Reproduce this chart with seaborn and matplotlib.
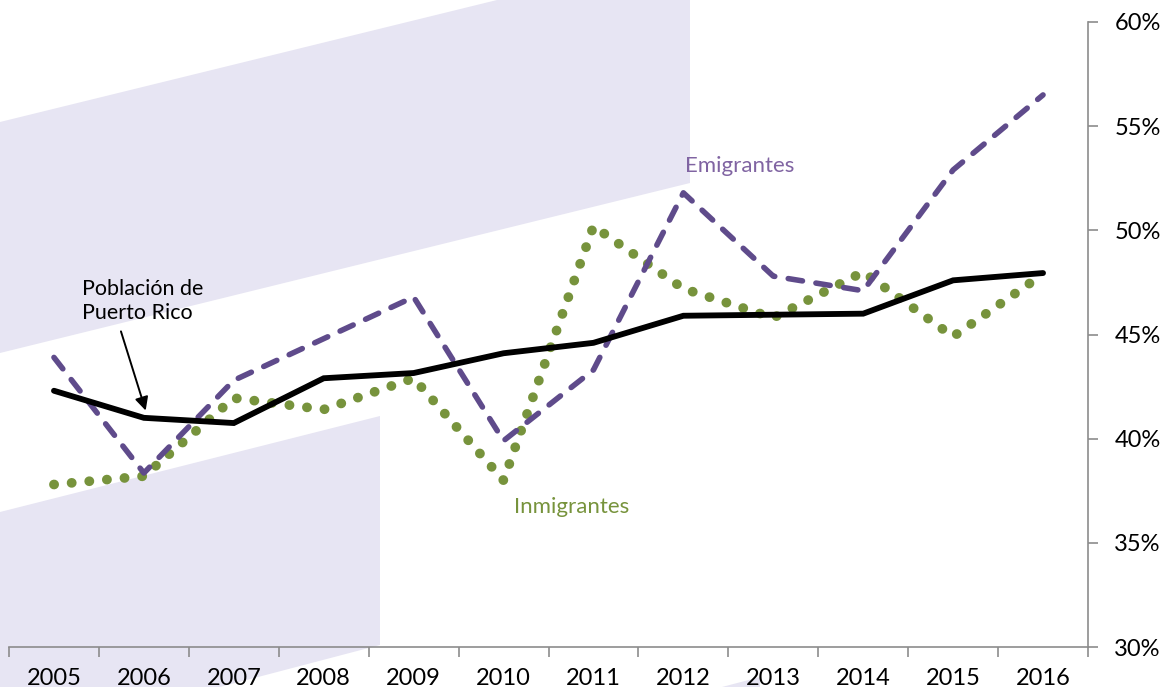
import numpy as np
import pandas as pd
import matplotlib
matplotlib.use("Agg")
import matplotlib.pyplot as plt
from matplotlib.patches import Polygon
from matplotlib.ticker import FixedLocator, FuncFormatter
import seaborn as sns

years = ["2005", "2006", "2007", "2008", "2009", "2010",
         "2011", "2012", "2013", "2014", "2015", "2016"]
poblacion = [42.3, 41.0, 40.75, 42.9, 43.15, 44.1, 44.6, 45.9, 45.95, 46.0, 47.6, 47.95]
emigrantes = [43.9, 38.35, 42.8, 44.8, 46.8, 39.9, 43.3, 51.8, 47.8, 47.1, 52.9, 56.5]
inmigrantes = [37.8, 38.2, 41.95, 41.4, 42.9, 38.0, 50.2, 47.2, 45.8, 48.0, 44.9, 47.9]
yticks = [30, 35, 40, 45, 50, 55, 60]

sns.set_theme(style="white")
plt.rcParams['font.family'] = ['Lato', 'DejaVu Sans']

W, H = 1162, 687
fig = plt.figure(figsize=(W / 100, H / 100), dpi=100)
ax = fig.add_axes([9 / W, 1 - 647 / H, (1088 - 9) / W, (647 - 22) / H])
ax.set_facecolor('none')

# decorative background shapes (pixel coords -> figure fraction)
lav = '#E7E5F3'
def px_poly(pts):
    return Polygon([(x / W, 1 - y / H) for x, y in pts], closed=True,
                   transform=fig.transFigure, facecolor=lav, edgecolor='none', zorder=-5)
fig.patches.append(px_poly([(0, 122), (497, 0), (690, 0), (690, 183), (0, 353)]))
fig.patches.append(px_poly([(0, 512), (380, 416), (380, 645), (220, 687), (0, 687)]))
fig.patches.append(px_poly([(722, 687), (760, 677), (760, 687)]))

x = np.arange(len(years))
df = pd.DataFrame({"x": x, "Población": poblacion,
                   "Emigrantes": emigrantes, "Inmigrantes": inmigrantes})

sns.lineplot(data=df, x="x", y="Inmigrantes", ax=ax, color='#77933C', lw=7.0,
             linestyle=(0, (0.02, 1.8)), dash_capstyle='round', solid_capstyle='round', zorder=3)
sns.lineplot(data=df, x="x", y="Emigrantes", ax=ax, color='#5F4B8B', lw=4.0,
             linestyle=(0, (2.6, 2.45)), dash_capstyle='round', zorder=4)
sns.lineplot(data=df, x="x", y="Población", ax=ax, color='black', lw=4.2,
             solid_joinstyle='miter', zorder=5)

ax.set_xlim(-0.5, len(years) - 0.5)
ax.set_ylim(30, 60)
ax.set_xlabel("")
ax.set_ylabel("")

# x axis: labels at centers, ticks at category boundaries
ax.set_xticks(x)
ax.set_xticklabels(years)
ax.xaxis.set_minor_locator(FixedLocator(np.arange(-0.5, len(years), 1.0)))
ax.tick_params(axis='x', which='major', length=0, pad=15, labelsize=17, colors='black')
ax.tick_params(axis='x', which='minor', length=7, width=1.2, color='#8C8C8C', direction='out', bottom=True)

# y axis on right
ax.yaxis.tick_right()
ax.set_yticks(yticks)
ax.yaxis.set_major_formatter(FuncFormatter(lambda v, p: f"{int(v)}%"))
ax.tick_params(axis='y', which='major', length=7, width=1.2, color='#8C8C8C',
               direction='out', right=True, left=False, pad=12, labelsize=17, labelcolor='black')

for s in ['top', 'left']:
    ax.spines[s].set_visible(False)
for s in ['bottom', 'right']:
    ax.spines[s].set_visible(True)
    ax.spines[s].set_color('#8C8C8C')
    ax.spines[s].set_linewidth(1.2)
ax.grid(False)

# annotations
ax.text(7.63, 53.1, "Emigrantes", color='#8064A2', fontsize=16, ha='center', va='center')
ax.text(5.76, 36.7, "Inmigrantes", color='#77933C', fontsize=16, ha='center', va='center')
ax.text(0.31, 46.6, "Población de\nPuerto Rico", color='black', fontsize=15.5,
        ha='left', va='center', linespacing=1.25)
ax.annotate("", xy=(1.02, 41.35), xytext=(0.745, 45.15),
            arrowprops=dict(arrowstyle='-|>', color='black', lw=1.4, mutation_scale=20,
                            shrinkA=0, shrinkB=0))

fig.savefig("out.png", dpi=100)
